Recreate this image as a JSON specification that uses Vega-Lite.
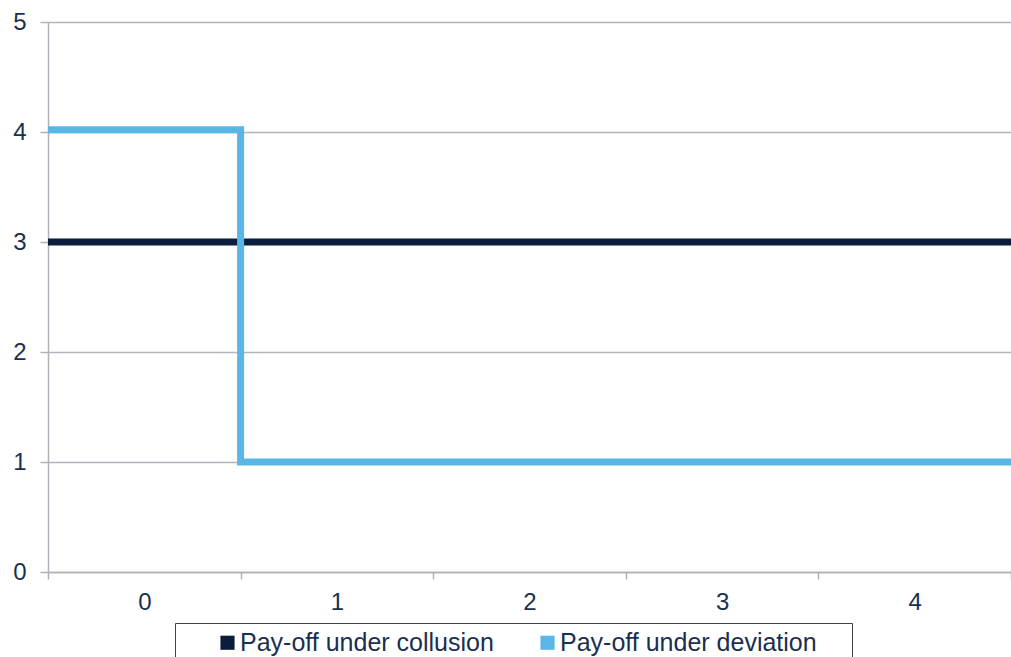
{
  "$schema": "https://vega.github.io/schema/vega-lite/v6.json",
  "width": 963,
  "height": 550,
  "autosize": "none",
  "padding": {"left": 48, "top": 22, "right": 0, "bottom": 85},
  "background": "white",
  "config": {
    "view": {"stroke": null},
    "font": "Liberation Sans",
    "axis": {"labelFont": "Liberation Sans", "labelColor": "#1a2f4e", "labelFontSize": 24, "domainColor": "#b0b0b8", "domainWidth": 1.5, "tickColor": "#b0b0b8", "tickWidth": 1.5, "gridColor": "#b4b4bc", "gridWidth": 1.5}
  },
  "data": {
    "values": [
      {"series": "Pay-off under collusion", "x": -0.5, "payoff": 3},
      {"series": "Pay-off under collusion", "x": 4.5, "payoff": 3},
      {"series": "Pay-off under deviation", "x": -0.5, "payoff": 4.02},
      {"series": "Pay-off under deviation", "x": 0.5, "payoff": 1},
      {"series": "Pay-off under deviation", "x": 4.5, "payoff": 1}
    ]
  },
  "mark": {"type": "line", "interpolate": "step-after", "strokeWidth": 7, "strokeCap": "butt", "clip": false},
  "encoding": {
    "x": {
      "field": "x", "type": "quantitative",
      "scale": {"domain": [-0.5, 4.5], "nice": false, "zero": false},
      "axis": {
        "title": null, "values": [-0.5, 0.5, 1.5, 2.5, 3.5, 4.5],
        "labelExpr": "datum.value < 4 ? format(datum.value + 0.5, 'd') : ''",
        "labelOffset": 96.3, "labelFlush": false, "labelOverlap": false, "labelBound": false,
        "grid": false, "tickSize": 7, "labelPadding": 11
      }
    },
    "y": {
      "field": "payoff", "type": "quantitative",
      "scale": {"domain": [0, 5], "nice": false},
      "axis": {"title": null, "values": [0, 1, 2, 3, 4, 5], "grid": true, "tickSize": 8, "labelPadding": 14}
    },
    "color": {
      "field": "series", "type": "nominal",
      "scale": {"domain": ["Pay-off under collusion", "Pay-off under deviation"], "range": ["#0b1d3c", "#59b6e6"]},
      "legend": {
        "title": " ", "titleOrient": "right", "titlePadding": 28, "titleFontSize": 25,
        "orient": "none", "legendX": 127, "legendY": 601,
        "direction": "horizontal", "strokeColor": "#404040", "padding": 7,
        "symbolType": "square", "symbolSize": 200, "symbolOffset": 33,
        "labelFont": "Liberation Sans", "labelFontSize": 25, "labelColor": "#1a2f4e", "labelOffset": 0,
        "labelLimit": 500, "columnPadding": 8,
        "encode": {
          "symbols": {"update": {"fill": {"scale": "color", "field": "value"}, "strokeWidth": {"value": 0}}}
        }
      }
    }
  }
}
